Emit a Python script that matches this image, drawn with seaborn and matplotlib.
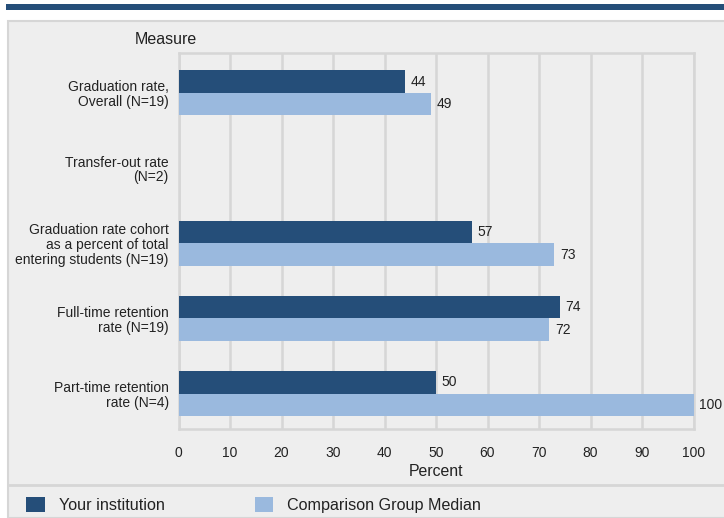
import numpy as np
import pandas as pd
import matplotlib
matplotlib.use("Agg")
import matplotlib.pyplot as plt
from matplotlib.patches import Rectangle, Patch
from matplotlib.lines import Line2D
import seaborn as sns

# ---- data ----
measures = [
    "Graduation rate,\nOverall (N=19)",
    "Transfer-out rate\n(N=2)",
    "Graduation rate cohort\nas a percent of total\nentering students (N=19)",
    "Full-time retention\nrate (N=19)",
    "Part-time retention\nrate (N=4)",
]
series = ["Your institution", "Comparison Group Median"]
your_institution = [44, np.nan, 57, 74, 50]
comparison_median = [49, np.nan, 73, 72, 100]
x_ticks = [0, 10, 20, 30, 40, 50, 60, 70, 80, 90, 100]

colors = ["#254e79", "#9ab9de"]
panel_bg = "#eeeeee"
grid_c = "#d6d6d6"
text_c = "#222222"

df = pd.DataFrame({
    "Measure": measures * 2,
    "Series": [series[0]] * len(measures) + [series[1]] * len(measures),
    "Percent": your_institution + comparison_median,
})

sns.set_theme(style="white")
plt.rcParams["font.family"] = ["Liberation Sans", "DejaVu Sans"]

W, H = 724, 518
fig = plt.figure(figsize=(W / 100, H / 100), dpi=100, facecolor="white")

def fx(px):
    return px / W

def fy(py):
    return 1 - py / H

# top dark band
fig.add_artist(Rectangle((fx(6), fy(10)), fx(724) - fx(6), fy(4) - fy(10),
                         transform=fig.transFigure, facecolor="#254e79",
                         edgecolor="none", zorder=0))
# panel
fig.add_artist(Rectangle((fx(8), fy(518)), fx(740) - fx(8), fy(20.5) - fy(518),
                         transform=fig.transFigure, facecolor=panel_bg,
                         edgecolor=grid_c, linewidth=1.5, zorder=0))
# divider above legend
fig.add_artist(Line2D([fx(8), fx(724)], [fy(485), fy(485)], transform=fig.transFigure,
                      color=grid_c, linewidth=2, zorder=1))

ax = fig.add_axes([fx(178.5), fy(429), fx(693.5) - fx(178.5), fy(53) - fy(429)])
ax.set_facecolor(panel_bg)

sns.barplot(data=df, y="Measure", x="Percent", hue="Series", order=measures,
            hue_order=series, palette=colors, orient="h", width=0.6,
            errorbar=None, saturation=1, ax=ax, legend=False, zorder=3,
            linewidth=0, edgecolor="none")

ax.set_xlim(0, 100)
ax.set_ylim(4.47, -0.53)
ax.set_xticks(x_ticks)
ax.set_xticklabels([str(t) for t in x_ticks], fontsize=10, color=text_c)
ax.tick_params(axis="x", length=7, width=1.5, color=grid_c, pad=5)
ax.tick_params(axis="y", length=0, pad=7, labelsize=10, labelcolor=text_c)
for lab in ax.get_yticklabels():
    lab.set_horizontalalignment("right")
    lab.set_multialignment("right")
    lab.set_linespacing(1.05)

ax.grid(axis="x", color=grid_c, linewidth=1.8, zorder=0)
ax.set_axisbelow(True)
for s in ax.spines.values():
    s.set_color(grid_c)
    s.set_linewidth(1.8)

ax.set_ylabel("")
ax.set_xlabel("Percent", fontsize=11.4, color=text_c, labelpad=3)

for cont in ax.containers:
    labels = [f"{b.get_width():.0f}" if np.isfinite(b.get_width()) and b.get_width() > 0 else ""
              for b in cont]
    ax.bar_label(cont, labels=labels, padding=4, fontsize=10, color=text_c, clip_on=False)

fig.text(fx(135), fy(40), "Measure", fontsize=11.5, color=text_c, ha="left", va="center")

# legend
handles = [Patch(facecolor=c, edgecolor="none") for c in colors]
leg = fig.legend(handles, series, loc="center left", bbox_to_anchor=(fx(20), fy(505)),
                 ncol=2, frameon=False, fontsize=11.6, handlelength=1.15, handleheight=1.05,
                 handletextpad=0.85, columnspacing=5.6, borderaxespad=0)
for t in leg.get_texts():
    t.set_color(text_c)

fig.savefig("out.png", dpi=100, facecolor="white")
